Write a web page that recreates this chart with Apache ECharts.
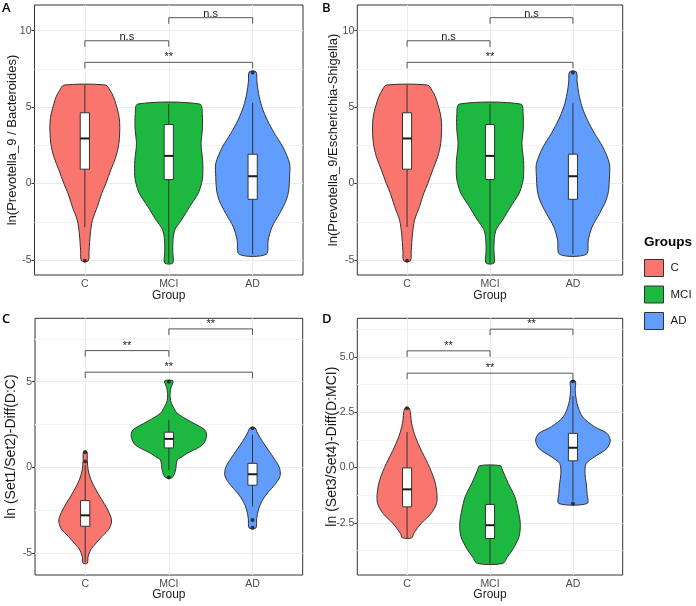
<!DOCTYPE html>
<html>
<head>
<meta charset="utf-8">
<script src="https://cdn.jsdelivr.net/npm/echarts@6/dist/echarts.min.js"></script>
<style>
html, body { margin: 0; padding: 0; background: #fff; }
#main { width: 696px; height: 606px; }
</style>
</head>
<body>
<div id="main"></div>
<script>
var groups = ['C', 'MCI', 'AD'];
var colors = ['#F8766D', '#1DB83F', '#619CFF'];

// violin outlines, [value, half width in group units], from bottom to top
var violinAB_C = [[-5.05, 0.04], [-4.4, 0.05], [-3.3, 0.065], [-2.4, 0.09], [-1.5, 0.15], [-0.65, 0.2], [0, 0.25], [0.9, 0.31], [1.75, 0.37], [2.6, 0.405], [3.3, 0.415], [4.0, 0.415], [4.6, 0.4], [5.2, 0.37], [5.7, 0.34], [6.1, 0.3], [6.44, 0.25]];
var violinAB_MCI = [[-5.2, 0.048], [-4.5, 0.048], [-3.7, 0.05], [-3.0, 0.075], [-2.4, 0.15], [-1.5, 0.25], [-0.65, 0.35], [0, 0.39], [0.5, 0.405], [1.5, 0.405], [2.2, 0.39], [2.7, 0.385], [3.5, 0.4], [4.5, 0.4], [5.2, 0.37]];
var violinAB_AD = [[-4.63, 0.16], [-3.7, 0.185], [-2.84, 0.23], [-1.96, 0.32], [-1.09, 0.4], [-0.44, 0.43], [0.44, 0.44], [1.31, 0.44], [2.4, 0.36], [3.28, 0.26], [4.15, 0.175], [5.02, 0.11], [5.9, 0.07], [6.7, 0.05], [7.31, 0.04]];

var violinC_C = [[-5.61, 0.025], [-5.22, 0.035], [-4.83, 0.065], [-4.44, 0.13], [-4.05, 0.2], [-3.57, 0.29], [-3.08, 0.315], [-2.5, 0.27], [-1.91, 0.2], [-1.33, 0.13], [-0.74, 0.07], [-0.16, 0.035], [0.4, 0.025], [0.92, 0.02]];
var violinC_MCI = [[-0.6, 0.04], [-0.16, 0.08], [0.43, 0.1], [0.62, 0.16], [0.82, 0.22], [1.3, 0.4], [1.79, 0.45], [2.18, 0.43], [2.67, 0.26], [3.16, 0.1], [3.55, 0.05], [3.9, 0.02], [4.3, 0.015], [4.65, 0.025], [5.05, 0.05]];
var violinC_AD = [[-3.55, 0.04], [-3.0, 0.05], [-2.5, 0.07], [-2.0, 0.11], [-1.5, 0.18], [-1.0, 0.27], [-0.5, 0.33], [0, 0.32], [0.5, 0.26], [1.0, 0.19], [1.5, 0.12], [2.0, 0.06], [2.3, 0.03]];

var violinD_C = [[-3.18, 0.056], [-2.98, 0.08], [-2.53, 0.17], [-2.08, 0.29], [-1.63, 0.355], [-1.17, 0.36], [-0.57, 0.33], [0.18, 0.25], [0.78, 0.17], [1.39, 0.1], [1.99, 0.055], [2.67, 0.028]];
var violinD_MCI = [[-4.34, 0.153], [-4.04, 0.21], [-3.73, 0.27], [-3.13, 0.35], [-2.53, 0.365], [-1.93, 0.34], [-1.33, 0.3], [-0.72, 0.22], [-0.12, 0.15], [0.08, 0.125]];
var violinD_AD = [[-1.63, 0.17], [-1.17, 0.17], [-0.72, 0.16], [-0.27, 0.145], [0.18, 0.16], [0.48, 0.26], [0.86, 0.41], [1.23, 0.45], [1.54, 0.41], [1.84, 0.26], [2.29, 0.115], [2.89, 0.05], [3.49, 0.027], [3.9, 0.03]];

// boxes: [low whisker, q1, median, q3, high whisker]
var boxesAB = [[-2.84, 0.94, 2.95, 4.63, 6.44], [-5.2, 0.26, 1.81, 3.86, 5.2], [-4.63, -1.03, 0.48, 1.92, 5.28]];
var boxesC = [[-5.55, -3.45, -2.81, -1.95, 0.14], [-0.16, 1.13, 1.66, 2.05, 2.77], [-2.3, -1.05, -0.41, 0.23, 1.9]];
var boxesD = [[-3.18, -1.78, -0.99, -0.02, 1.6], [-4.34, -3.21, -2.61, -1.67, 0.08], [-1.5, 0.3, 0.89, 1.54, 3.22]];

// outliers: [group position, value]
var outliersAB = [[1, -5.05], [3, 7.27]];
var outliersC = [[1, 0.33], [1, 0.88], [2, 5.0], [2, -0.6], [3, 2.28], [3, -3.08], [3, -3.53]];
var outliersD = [[1, 2.67], [3, 3.9], [3, -1.63]];

// significance brackets: [from, to, height, label]
var bracketsAB = [[1, 2, 9.34, 'n.s'], [2, 3, 10.85, 'n.s'], [1, 3, 7.93, '**']];
var bracketsC = [[1, 2, 6.82, '**'], [2, 3, 8.09, '**'], [1, 3, 5.56, '**']];
var bracketsD = [[1, 2, 5.27, '**'], [2, 3, 6.25, '**'], [1, 3, 4.26, '**']];

var yTitles = ['ln(Prevotella_9 / Bacteroides)', 'ln(Prevotella_9/Escherichia-Shigella)', 'ln (Set1/Set2)-Diff(D:C)', 'ln (Set3/Set4)-Diff(D:MCI)'];
var yRanges = [[-5.98, 11.68], [-5.98, 11.68], [-6.3, 8.71], [-4.86, 6.74]];
var yTicks = [[-5, 0, 5, 10], [-5, 0, 5, 10], [-5, 0, 5], [-2.5, 0, 2.5, 5]];
var yMinor = [[-2.5, 2.5, 7.5], [-2.5, 2.5, 7.5], [-2.5, 2.5, 7.5], [-3.75, -1.25, 1.25, 3.75, 6.25]];
var panelLetters = ['A', 'B', 'C', 'D'];

var panels = [
    {violins: [violinAB_C, violinAB_MCI, violinAB_AD], boxes: boxesAB, outliers: outliersAB, brackets: bracketsAB},
    {violins: [violinAB_C, violinAB_MCI, violinAB_AD], boxes: boxesAB, outliers: outliersAB, brackets: bracketsAB},
    {violins: [violinC_C, violinC_MCI, violinC_AD], boxes: boxesC, outliers: outliersC, brackets: bracketsC},
    {violins: [violinD_C, violinD_MCI, violinD_AD], boxes: boxesD, outliers: outliersD, brackets: bracketsD}
];

var FONT = '"Liberation Sans", Arial, sans-serif';
var gridRects = [
    {left: 34.5, top: 5, width: 268.5, height: 270},
    {left: 357.3, top: 5, width: 265.4, height: 270},
    {left: 35, top: 318.3, width: 267.7, height: 256.7},
    {left: 357.3, top: 318.3, width: 265.4, height: 256.7}
];
var titleSize = [13, 13, 14, 14];
var yNameGap = [16, 17, 16.5, 18.5];
var xNameGap = [15, 15, 14, 14];

function violinRender(prof, g) {
    return function (params, api) {
        var right = [], left = [];
        prof.forEach(function (p) {
            right.push(api.coord([g + 1 + p[1], p[0]]));
            left.unshift(api.coord([g + 1 - p[1], p[0]]));
        });
        return {
            type: 'polygon',
            shape: {points: right.concat(left), smooth: 0.3},
            style: {fill: colors[g], stroke: '#333', lineWidth: 1}
        };
    };
}

function boxRender(params, api) {
    var x = api.value(0), hw = 0.055;
    var lo = api.coord([x, api.value(1)]);
    var hi = api.coord([x, api.value(5)]);
    var a = api.coord([x - hw, api.value(4)]);
    var b = api.coord([x + hw, api.value(2)]);
    var m1 = api.coord([x - hw, api.value(3)]);
    var m2 = api.coord([x + hw, api.value(3)]);
    return {
        type: 'group',
        children: [
            {type: 'line', shape: {x1: lo[0], y1: lo[1], x2: hi[0], y2: hi[1]}, style: {stroke: '#333', lineWidth: 1}},
            {type: 'rect', shape: {x: a[0], y: a[1], width: b[0] - a[0], height: b[1] - a[1]}, style: {fill: '#fff', stroke: '#333', lineWidth: 1}},
            {type: 'line', shape: {x1: m1[0], y1: m1[1], x2: m2[0], y2: m2[1]}, style: {stroke: '#1a1a1a', lineWidth: 2}}
        ]
    };
}

function bracketRender(brackets) {
    return function (params, api) {
        var p1 = api.coord([api.value(0), api.value(2)]);
        var p2 = api.coord([api.value(1), api.value(2)]);
        var label = brackets[params.dataIndex][3];
        var tip = 6;
        return {
            type: 'group',
            children: [
                {type: 'polyline', shape: {points: [[p1[0], p1[1] + tip], p1, p2, [p2[0], p2[1] + tip]]}, style: {stroke: '#555', lineWidth: 1, fill: null}},
                {type: 'text', style: {text: label, x: (p1[0] + p2[0]) / 2, y: p1[1] - (label === '**' ? 5 : 3.5), align: 'center', verticalAlign: 'middle', fontSize: 11, fontFamily: FONT, fill: '#1a1a1a'}}
            ]
        };
    };
}

var grid = [], xAxis = [], yAxis = [], series = [], titles = [];

panels.forEach(function (pn, k) {
    grid.push(Object.assign({show: true, borderColor: '#333', borderWidth: 1, backgroundColor: '#fff'}, gridRects[k]));
    xAxis.push({
        gridIndex: k, type: 'value', min: 0.4, max: 3.6,
        name: 'Group', nameLocation: 'middle', nameGap: xNameGap[k], nameMoveOverlap: false,
        nameTextStyle: {fontFamily: FONT, fontSize: 12, color: '#1a1a1a'},
        axisLine: {show: false},
        axisTick: {show: true, length: 3, customValues: [1, 2, 3], lineStyle: {color: '#333'}},
        axisLabel: {customValues: [1, 2, 3], formatter: function (v) { return groups[v - 1]; }, margin: 4, fontFamily: FONT, fontSize: 10.5, color: '#4d4d4d'},
        splitLine: {show: true, lineStyle: {color: '#ebebeb', width: 1}}
    });
    yAxis.push({
        gridIndex: k, type: 'value', min: yRanges[k][0], max: yRanges[k][1],
        name: yTitles[k], nameLocation: 'middle', nameGap: yNameGap[k], nameRotate: 90, nameMoveOverlap: false,
        nameTextStyle: {fontFamily: FONT, fontSize: titleSize[k], color: '#1a1a1a'},
        axisLine: {show: false},
        axisTick: {show: true, length: 3, customValues: yTicks[k], lineStyle: {color: '#333'}},
        axisLabel: {customValues: yTicks[k], margin: 3, fontFamily: FONT, fontSize: 10.5, color: '#4d4d4d',
            formatter: function (v) { return k === 3 ? v.toFixed(1) : String(v); }},
        splitLine: {show: true, lineStyle: {color: '#ebebeb', width: 1}}
    });
    titles.push({
        text: panelLetters[k], left: k % 2 ? 322 : 2, top: k < 2 ? 1.5 : 313, padding: 0,
        textStyle: {fontFamily: '"Open Sans", sans-serif', fontSize: 13, fontWeight: 600, color: '#000'}
    });
});

// minor grid lines on a second, label-less y axis per panel
panels.forEach(function (pn, k) {
    yAxis.push({
        gridIndex: k, type: 'value', min: yRanges[k][0], max: yRanges[k][1], position: 'left',
        axisLine: {show: false}, axisLabel: {show: false},
        axisTick: {show: false, customValues: yMinor[k]},
        splitLine: {show: true, lineStyle: {color: '#f3f3f3', width: 1}}
    });
});

panels.forEach(function (pn, k) {
    pn.violins.forEach(function (prof, g) {
        series.push({
            type: 'custom', name: groups[g], xAxisIndex: k, yAxisIndex: k,
            itemStyle: {color: colors[g], borderColor: '#333', borderWidth: 1},
            renderItem: violinRender(prof, g),
            data: [[g + 1, 0]]
        });
    });
    series.push({
        type: 'custom', xAxisIndex: k, yAxisIndex: k,
        renderItem: boxRender,
        data: pn.boxes.map(function (b, i) { return [i + 1].concat(b); })
    });
    series.push({
        type: 'scatter', xAxisIndex: k, yAxisIndex: k,
        symbolSize: 4, itemStyle: {color: '#1a1a1a'},
        data: pn.outliers
    });
    series.push({
        type: 'custom', xAxisIndex: k, yAxisIndex: k,
        renderItem: bracketRender(pn.brackets),
        data: pn.brackets.map(function (b) { return [b[0], b[1], b[2]]; })
    });
});

titles.push({
    text: 'Groups', left: 644, top: 235, padding: 0,
    textStyle: {fontFamily: FONT, fontSize: 13.5, fontWeight: 'bold', color: '#000'}
});

var chart = echarts.init(document.getElementById('main'));
chart.setOption({
    animation: false,
    title: titles,
    grid: grid,
    xAxis: xAxis,
    yAxis: yAxis,
    legend: {
        data: groups, orient: 'vertical', left: 644, top: 259, padding: 0,
        itemWidth: 19, itemHeight: 17, itemGap: 8.5, icon: 'rect', selectedMode: false,
        itemStyle: {borderColor: '#333', borderWidth: 1},
        textStyle: {fontFamily: FONT, fontSize: 11.5, color: '#1a1a1a', padding: [0, 0, 0, 2]}
    },
    series: series
});
</script>
</body>
</html>
